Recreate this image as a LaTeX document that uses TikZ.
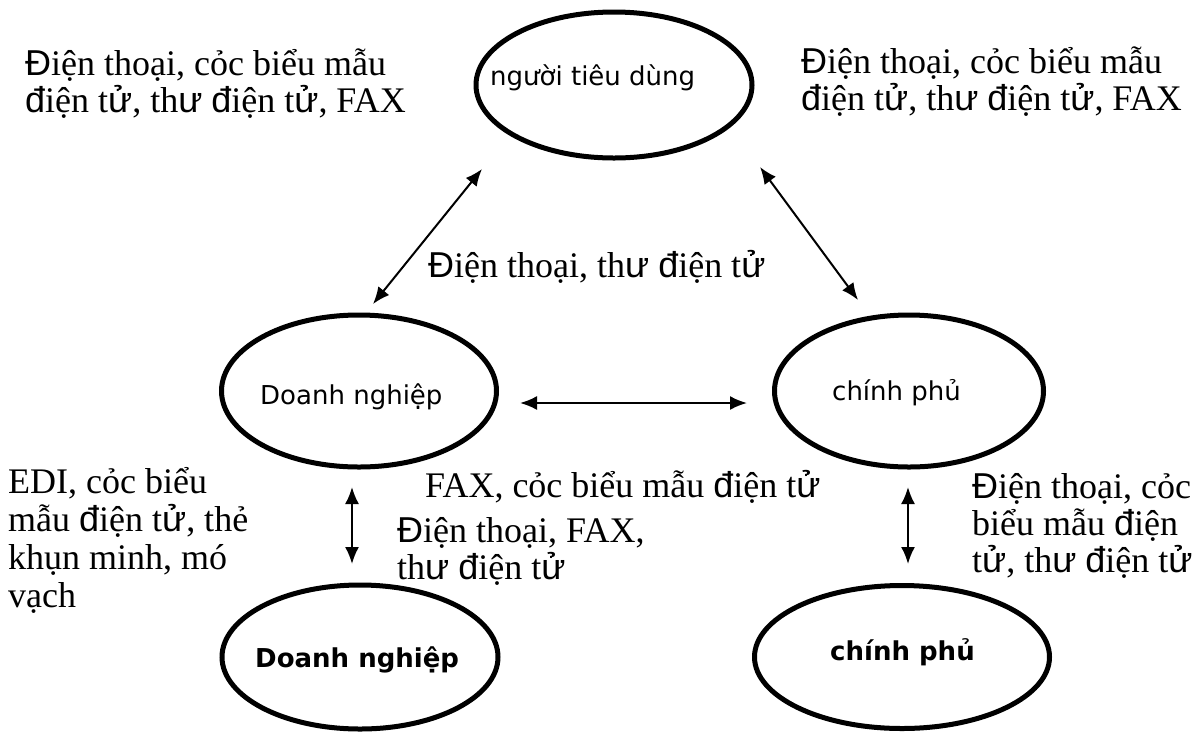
\documentclass[tikz,border=0pt]{standalone}
\usepackage{fontspec}
\setmainfont{Liberation Serif}
\newfontfamily\vs{Liberation Sans}
\newfontfamily\boxfont{DejaVu Sans}
\usetikzlibrary{arrows.meta,shapes.geometric}

% several lines set at a fixed baseline distance; the block's baseline is its first line
\newcommand\Ln[1]{\hbox{#1}}
\newcommand\Block[2]{\vtop{\baselineskip=#1\lineskiplimit=-\maxdimen\lineskip=0pt #2}}

\tikzset{
  oval/.style={ellipse, draw, line width=5pt, inner sep=0pt},
  boxlabel/.style={anchor=base west, inner sep=0pt, font=\boxfont\fontsize{26}{30}\selectfont},
  boxlabelbold/.style={boxlabel, font=\boxfont\bfseries\fontsize{26}{30}\selectfont},
  medium/.style={anchor=base west, inner sep=0pt, font=\fontsize{36}{37}\selectfont},
  biarrow/.style={line width=2pt, {Latex[length=17pt,width=14pt]}-{Latex[length=17pt,width=14pt]}}
}

\begin{document}
\begin{tikzpicture}[x=1pt,y=-1pt]
\path[use as bounding box] (0,0) rectangle (1194,732);

% parties
\node[oval, minimum width=276pt, minimum height=146pt] (cons) at (614,85) {};
\node[oval, minimum width=275pt, minimum height=152pt] (biz) at (359,391) {};
\node[oval, minimum width=269pt, minimum height=152pt] (gov) at (909,391) {};
\node[oval, minimum width=276pt, minimum height=144pt] (biz2) at (360,657) {};
\node[oval, minimum width=295pt, minimum height=143pt] (gov2) at (902,657) {};

\node[boxlabel] (consT) at (490,85) {người tiêu dùng};
\node[boxlabel] (bizT) at (260,404) {Doanh nghiệp};
\node[boxlabel] (govT) at (832,400) {chính phủ};
\node[boxlabelbold] (biz2T) at (255,667) {Doanh nghiệp};
\node[boxlabelbold] (gov2T) at (830,660) {chính phủ};

% connector ends
\coordinate (cb1) at (373,304);
\coordinate (cb2) at (482,169);
\coordinate (cg1) at (760,167);
\coordinate (cg2) at (858,300);
\coordinate (bg1) at (520,403);
\coordinate (bg2) at (747,403);
\coordinate (bb1) at (352,487);
\coordinate (bb2) at (352,564);
\coordinate (gg1) at (908,487);
\coordinate (gg2) at (908,564);

\draw[biarrow] (cb1) -- (cb2);
\draw[biarrow] (cg1) -- (cg2);
\draw[biarrow] (bg1) -- (bg2);
\draw[biarrow] (bb1) -- (bb2);
\draw[biarrow] (gg1) -- (gg2);

% channel labels
\node[medium] (tl) at (25,75) {\Block{37pt}{%
  \Ln{{\vs Đ}iện thoại, cỏc biểu mẫu}%
  \Ln{{\vs đ}iện t{\vs ử}, th{\vs ư} {\vs đ}iện t{\vs ử}, FAX}}};
\node[medium] (tr) at (801,73) {\Block{37pt}{%
  \Ln{{\vs Đ}iện thoại, cỏc biểu mẫu}%
  \Ln{{\vs đ}iện t{\vs ử}, th{\vs ư} {\vs đ}iện t{\vs ử}, FAX}}};
\node[medium] (mid) at (428,277) {{\vs Đ}iện thoại, th{\vs ư} {\vs đ}iện t{\vs ử}};
\node[medium] (bl) at (8,493) {\Block{38pt}{%
  \Ln{EDI, cỏc biểu}%
  \Ln{mẫu {\vs đ}iện t{\vs ử}, thẻ}%
  \Ln{khụn minh, mó}%
  \Ln{vạch}}};
\node[medium] (bm1) at (425,497) {FAX, cỏc biểu mẫu {\vs đ}iện t{\vs ử}};
\node[medium] (bm2) at (397,542) {\Block{37pt}{%
  \Ln{{\vs Đ}iện thoại, FAX,}%
  \Ln{th{\vs ư} {\vs đ}iện t{\vs ử}}}};
\node[medium] (br) at (972,498) {\Block{37pt}{%
  \Ln{{\vs Đ}iện thoại, cỏc}%
  \Ln{biểu mẫu {\vs đ}iện}%
  \Ln{t{\vs ử}, th{\vs ư} {\vs đ}iện t{\vs ử}}}};
\node[medium] (cut) at (1087,761) {ẫ};
\end{tikzpicture}
\end{document}
